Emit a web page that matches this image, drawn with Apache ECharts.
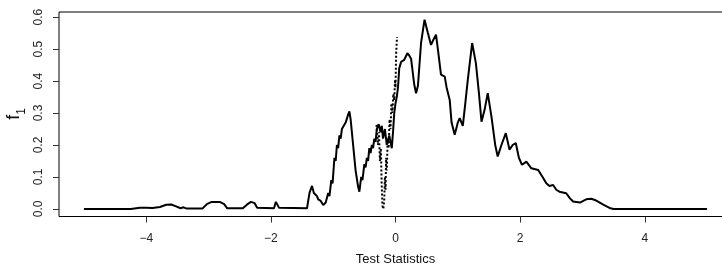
<!DOCTYPE html>
<html>
<head>
<meta charset="utf-8">
<style>
  html, body { margin: 0; padding: 0; background: #fff; }
  #chart { width: 722px; height: 266px; }
</style>
<script src="https://cdn.jsdelivr.net/npm/echarts@6/dist/echarts.min.js"></script>
</head>
<body>
<div id="chart"></div>
<script>
// solid curve
var solidX = [-5, -4.25, -4.1, -4.0, -3.9, -3.78, -3.68, -3.6, -3.52, -3.45, -3.4, -3.35, -3.1,
    -3.02, -2.95, -2.82, -2.75, -2.7, -2.45, -2.38, -2.32, -2.26, -2.22, -1.95, -1.92, -1.89, -1.87,
    -1.42, -1.38, -1.34, -1.31, -1.29, -1.28, -1.26, -1.24, -1.22, -1.2, -1.18, -1.16, -1.12,
    -1.08, -1.06, -1.03, -1.01, -0.98, -0.96, -0.94, -0.92, -0.9, -0.88, -0.86, -0.83, -0.8, -0.78,
    -0.76, -0.74, -0.72, -0.68, -0.64, -0.6, -0.58,
    -0.55, -0.53, -0.5, -0.48, -0.46, -0.44, -0.42, -0.4, -0.38, -0.36, -0.34, -0.32, -0.3,
    -0.27, -0.24, -0.22, -0.2, -0.17, -0.14, -0.1, -0.06, -0.04, -0.02, 0.0, 0.02, 0.04,
    0.06, 0.09, 0.14, 0.19, 0.22, 0.25, 0.3, 0.33, 0.36, 0.41, 0.466, 0.52, 0.57, 0.61, 0.65, 0.68,
    0.73, 0.79, 0.82, 0.87, 0.9, 0.95, 1.0, 1.03, 1.08, 1.12, 1.16, 1.23, 1.29, 1.34, 1.38, 1.43,
    1.48, 1.54, 1.6, 1.64, 1.7, 1.77, 1.83, 1.88, 1.93, 1.98, 2.03, 2.1, 2.18, 2.29, 2.36, 2.42,
    2.47, 2.53, 2.58, 2.63, 2.74, 2.8, 2.85, 2.96, 3.06, 3.14, 3.2, 3.25, 3.32, 3.38, 3.45, 3.5, 5];
var solidY = [0, 0, 0.004, 0.004, 0.003, 0.006, 0.013, 0.014, 0.008, 0.002, 0.005, 0.001, 0.001,
    0.016, 0.022, 0.022, 0.015, 0.002, 0.002, 0.014, 0.022, 0.018, 0.004, 0.002, 0.022, 0.024, 0.004,
    0.002, 0.05, 0.072, 0.05, 0.055, 0.045, 0.04, 0.03, 0.035, 0.025, 0.02, 0.012, 0.02,
    0.05, 0.04, 0.09, 0.08, 0.16, 0.15, 0.2, 0.19, 0.23, 0.22, 0.25, 0.245, 0.27, 0.265,
    0.295, 0.305, 0.28, 0.2, 0.12, 0.07, 0.054,
    0.1, 0.09, 0.14, 0.13, 0.16, 0.15, 0.19, 0.175, 0.2, 0.19, 0.22, 0.21, 0.25,
    0.265, 0.24, 0.26, 0.22, 0.25, 0.2, 0.23, 0.19, 0.24, 0.3, 0.33, 0.35, 0.38,
    0.44, 0.46, 0.466, 0.487, 0.48, 0.47, 0.39, 0.362, 0.385, 0.519, 0.592, 0.55, 0.513, 0.53, 0.545, 0.5,
    0.42, 0.414, 0.38, 0.341, 0.27, 0.232, 0.27, 0.284, 0.26, 0.33, 0.404, 0.519, 0.456, 0.36, 0.273, 0.31,
    0.362, 0.289, 0.2, 0.164, 0.2, 0.237, 0.185, 0.2, 0.206, 0.16, 0.138, 0.148, 0.127, 0.122, 0.1, 0.08,
    0.072, 0.075, 0.06, 0.054, 0.049, 0.033, 0.023, 0.02, 0.03, 0.032, 0.028, 0.023, 0.015, 0.009, 0.002, 0, 0];

// dotted piece near zero
var dottedX = [-0.305, -0.28, -0.265, -0.25, -0.235, -0.222, -0.21, -0.195, -0.18, -0.17, -0.16, -0.15,
    -0.14, -0.125, -0.11, -0.095, -0.08, -0.065, -0.05, -0.035, -0.02, -0.008, 0.0, 0.011, 0.024];
var dottedY = [0.263, 0.2, 0.24, 0.15, 0.19, 0.08, 0.01, 0.0, 0.03, 0.1, 0.06, 0.16,
    0.12, 0.22, 0.19, 0.28, 0.25, 0.33, 0.3, 0.36, 0.34, 0.404, 0.38, 0.488, 0.538];

var xTicks = [-4, -2, 0, 2, 4];
var yTicks = [0, 0.1, 0.2, 0.3, 0.4, 0.5, 0.6];

function pairs(xs, ys) {
    var out = [];
    for (var i = 0; i < xs.length; i++) {
        out.push([xs[i], ys[i]]);
    }
    return out;
}

var myChart = echarts.init(document.getElementById('chart'), null, { renderer: 'canvas' });
var font = 'Liberation Sans, Arial, sans-serif';

var option = {
    animation: false,
    // y title "f1" with a subscript, placed by hand
    graphic: [{
        type: 'text',
        x: 14,
        y: 114,
        rotation: Math.PI / 2,
        style: {
            text: '{f|f}{s|1}',
            align: 'center',
            verticalAlign: 'middle',
            rich: {
                f: { fontFamily: font, fontSize: 18, lineHeight: 22, fill: '#111' },
                s: { fontFamily: font, fontSize: 12, lineHeight: 22, verticalAlign: 'bottom', padding: [0, 0, -3, 0], fill: '#111' }
            }
        }
    }],
    grid: {
        left: 59,
        top: 12,
        width: 673,
        height: 204.5,
        outerBoundsMode: 'none',
        containLabel: false,
        show: true,
        borderColor: '#000',
        borderWidth: 1,
        backgroundColor: 'transparent'
    },
    xAxis: {
        type: 'value',
        min: -5.4,
        max: 5.4,
        name: 'Test Statistics',
        nameLocation: 'middle',
        nameGap: 36,
        nameMoveOverlap: false,
        nameTextStyle: { fontFamily: font, fontSize: 13, color: '#111' },
        splitLine: { show: false },
        axisLine: { show: false, onZero: false },
        axisTick: { show: true, length: 6, lineStyle: { color: '#333' }, customValues: xTicks },
        axisLabel: {
            customValues: xTicks,
            margin: 16,
            fontFamily: font,
            fontSize: 12,
            color: '#222',
            formatter: function (v) { return String(v).replace('-', '\u2212'); }
        }
    },
    yAxis: {
        type: 'value',
        min: -0.0237,
        max: 0.616,
        splitLine: { show: false },
        axisLine: { show: false, onZero: false },
        axisTick: { show: true, length: 6, lineStyle: { color: '#333' }, customValues: yTicks },
        axisLabel: {
            customValues: yTicks,
            rotate: 90,
            margin: 14,
            fontFamily: font,
            fontSize: 12,
            color: '#222',
            formatter: function (v) { return v.toFixed(1); }
        }
    },
    series: [{
        type: 'line',
        data: pairs(solidX, solidY),
        symbol: 'none',
        smooth: false,
        lineStyle: { color: '#000', width: 2 }
    }, {
        type: 'line',
        data: pairs(dottedX, dottedY),
        symbol: 'none',
        smooth: false,
        lineStyle: { color: '#000', width: 2, type: [2, 2] }
    }]
};
myChart.setOption(option);
</script>
</body>
</html>
